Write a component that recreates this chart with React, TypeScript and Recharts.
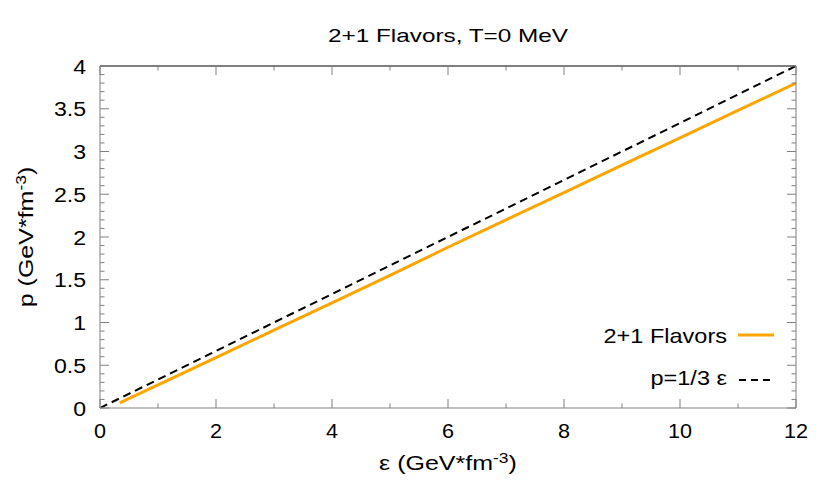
import React from 'react';
import { LineChart, Line, XAxis, YAxis, Legend } from 'recharts';

const FONT = '"Liberation Sans", Arial, Helvetica, sans-serif';
const GRAY = '#808080';
const ORANGE = '#FFA500';

const titleText = '2+1 Flavors, T=0 MeV';
const xAxisTitle = 'ε (GeV*fm';
const yAxisTitle = 'p (GeV*fm';
const unitExponent = '-3';

const flavorName = '2+1 Flavors';
const flavorEpsilon = [0.34, 1, 2, 3, 4, 5, 6, 7, 8, 9, 10, 11, 12];
const flavorPressure = [0.06, 0.27, 0.59, 0.91, 1.23, 1.55, 1.88, 2.2, 2.52, 2.84, 3.16, 3.48, 3.8];

const conformalName = 'p=1/3 ε';
const conformalEpsilon = [0, 12];
const conformalPressure = [0, 4];

const xMajorTicks = [0, 2, 4, 6, 8, 10, 12];
const xTickLabels = ['0', '2', '4', '6', '8', '10', '12'];
const xAllTicks = [0, 1, 2, 3, 4, 5, 6, 7, 8, 9, 10, 11, 12];
const yMajorTicks = [0, 0.5, 1, 1.5, 2, 2.5, 3, 3.5, 4];
const yTickLabels = ['0', '0.5', '1', '1.5', '2', '2.5', '3', '3.5', '4'];
const yAllTicks = Array.from({ length: 41 }, (_, i) => i / 10);

const flavorData = flavorEpsilon.map((e, i) => ({ e, p: flavorPressure[i] }));
const conformalData = conformalEpsilon.map((e, i) => ({ e, p: conformalPressure[i] }));

function Stretch(props: any) {
  const { x, y, sx = 1, size = 20, anchor = 'middle', rotate, children } = props;
  return (
    <g transform={`translate(${x},${y})${rotate ? ` rotate(${rotate})` : ''} scale(${sx},1)`}>
      <text x={0} y={0} textAnchor={anchor} fontSize={size} fontFamily={FONT} fill="#000">
        {children}
      </text>
    </g>
  );
}

function axisTick(side: string, majors: number[], labels?: string[]) {
  return (props: any) => {
    const { x, y, payload } = props;
    const v = Number(payload.value);
    const idx = majors.findIndex((m) => Math.abs(m - v) < 1e-6);
    const len = idx >= 0 ? 9 : 4.5;
    let x2 = x;
    let y2 = y;
    if (side === 'bottom') y2 = y - len;
    if (side === 'top') y2 = y + len;
    if (side === 'left') x2 = x + len;
    if (side === 'right') x2 = x - len;
    let label = null;
    if (labels && idx >= 0) {
      if (side === 'bottom') {
        label = (
          <Stretch x={x} y={y + 30} sx={1.08} size={20} anchor="middle">
            {labels[idx]}
          </Stretch>
        );
      } else if (side === 'left') {
        label = (
          <Stretch x={x - 14} y={y + 7.5} sx={1.1} size={21} anchor="end">
            {labels[idx]}
          </Stretch>
        );
      }
    }
    return (
      <g>
        <line x1={x} y1={y} x2={x2} y2={y2} stroke={GRAY} strokeWidth={1} />
        {label}
      </g>
    );
  };
}

const titleLabel = (p: any) => {
  const vb = p.viewBox;
  return (
    <Stretch x={vb.x + vb.width / 2} y={vb.y + vb.height - 24} sx={1.28} size={19} anchor="middle">
      {titleText}
    </Stretch>
  );
};

const xLabel = (p: any) => {
  const vb = p.viewBox;
  return (
    <Stretch x={vb.x + vb.width / 2} y={vb.y + 62} sx={1.25} size={20} anchor="middle">
      {xAxisTitle}
      <tspan dy={-7} fontSize={14}>{unitExponent}</tspan>
      <tspan dy={7}>)</tspan>
    </Stretch>
  );
};

const yLabel = (p: any) => {
  const vb = p.viewBox;
  return (
    <Stretch x={vb.x + vb.width - 67} y={vb.y + vb.height / 2} rotate={-90} sx={1.25} size={20} anchor="middle">
      {yAxisTitle}
      <tspan dy={-7} fontSize={14}>{unitExponent}</tspan>
      <tspan dy={7}>)</tspan>
    </Stretch>
  );
};

const renderLegend = () => (
  <svg width={240} height={80} style={{ overflow: 'visible', display: 'block' }}>
    <Stretch x={167} y={28} sx={1.12} size={21} anchor="end">
      {flavorName}
    </Stretch>
    <line x1={178} x2={214} y1={20} y2={20} stroke={ORANGE} strokeWidth={3} />
    <Stretch x={167} y={70} sx={1.12} size={21} anchor="end">
      {conformalName}
    </Stretch>
    <line x1={179} x2={211} y1={65} y2={65} stroke="#000" strokeWidth={2} strokeDasharray="7 5" />
  </svg>
);

export default function App() {
  return (
    <div style={{ position: 'absolute', left: 0, top: 0, background: '#fff' }}>
      <LineChart
        width={830}
        height={498}
        margin={{ top: 65, right: 33, bottom: 89, left: 99 }}
        style={{ background: '#fff' }}
      >
        <XAxis
          xAxisId={0}
          dataKey="e"
          type="number"
          domain={[0, 12]}
          allowDataOverflow
          ticks={xAllTicks}
          interval={0}
          height={1}
          tickSize={0}
          tickMargin={0}
          tickLine={false}
          axisLine={{ stroke: GRAY, strokeWidth: 1 }}
          tick={axisTick('bottom', xMajorTicks, xTickLabels)}
          label={{ content: xLabel }}
        />
        <XAxis
          xAxisId="top"
          orientation="top"
          dataKey="e"
          type="number"
          domain={[0, 12]}
          allowDataOverflow
          ticks={xAllTicks}
          interval={0}
          height={1}
          tickSize={0}
          tickMargin={0}
          tickLine={false}
          axisLine={{ stroke: '#000', strokeWidth: 1 }}
          tick={axisTick('top', xMajorTicks)}
          label={{ content: titleLabel }}
        />
        <YAxis
          yAxisId={0}
          type="number"
          domain={[0, 4]}
          allowDataOverflow
          ticks={yAllTicks}
          interval={0}
          width={1}
          tickSize={0}
          tickMargin={0}
          tickLine={false}
          axisLine={{ stroke: GRAY, strokeWidth: 1 }}
          tick={axisTick('left', yMajorTicks, yTickLabels)}
          label={{ content: yLabel }}
        />
        <YAxis
          yAxisId="right"
          orientation="right"
          type="number"
          domain={[0, 4]}
          allowDataOverflow
          ticks={yAllTicks}
          interval={0}
          width={1}
          tickSize={0}
          tickMargin={0}
          tickLine={false}
          axisLine={{ stroke: GRAY, strokeWidth: 1 }}
          tick={axisTick('right', yMajorTicks)}
        />
        <Line
          data={conformalData}
          dataKey="p"
          name={conformalName}
          stroke="#000"
          strokeWidth={2}
          strokeDasharray="8 5"
          dot={false}
          activeDot={false}
          isAnimationActive={false}
        />
        <Line
          data={flavorData}
          dataKey="p"
          name={flavorName}
          stroke={ORANGE}
          strokeWidth={3}
          dot={false}
          activeDot={false}
          isAnimationActive={false}
        />
        <Legend
          layout="vertical"
          align="center"
          verticalAlign="middle"
          wrapperStyle={{ position: 'absolute', left: 560, top: 315, width: 240, height: 80 }}
          content={renderLegend}
        />
      </LineChart>
    </div>
  );
}
